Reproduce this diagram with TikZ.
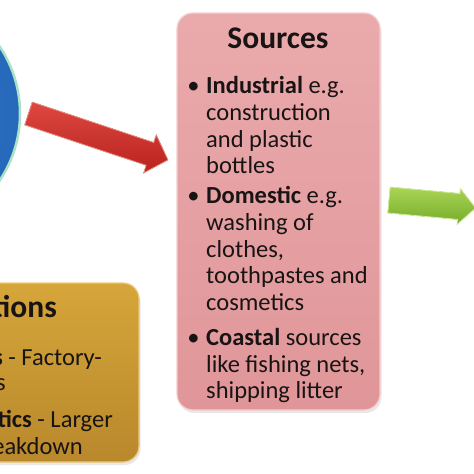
\documentclass[tikz,border=0pt]{standalone}
\usepackage{fontspec}
\setmainfont{Carlito}
\usetikzlibrary{shadows}
\definecolor{txt}{RGB}{25,20,20}
\definecolor{pinktop}{RGB}{234,170,172}
\definecolor{pinkbot}{RGB}{224,150,153}
\definecolor{pinkedge}{RGB}{244,205,206}
\definecolor{goldtop}{RGB}{214,166,58}
\definecolor{goldbot}{RGB}{184,136,44}
\definecolor{goldedge}{RGB}{236,200,120}
\definecolor{bluein}{RGB}{50,122,204}
\definecolor{blueout}{RGB}{38,104,186}
\definecolor{rim}{RGB}{170,225,200}
\definecolor{redtop}{RGB}{222,72,64}
\definecolor{redbot}{RGB}{185,34,30}
\definecolor{rededge}{RGB}{235,140,130}
\definecolor{greentop}{RGB}{170,212,85}
\definecolor{greenbot}{RGB}{118,172,42}
\definecolor{greenedge}{RGB}{210,240,150}
\begin{document}
\begin{tikzpicture}[x=1pt,y=-1pt,
  body/.style={inner sep=0pt, anchor=base west, font=\fontsize{24.5}{27}\selectfont, text=txt},
  bodyr/.style={inner sep=0pt, anchor=base east, font=\fontsize{24.5}{27}\selectfont, text=txt},
  ttl/.style={inner sep=0pt, font=\bfseries\fontsize{31.5}{34}\selectfont, text=txt},
  bul/.style={inner sep=0pt, anchor=base, font=\fontsize{24.5}{27}\selectfont, text=txt},
  panel/.style={rounded corners=16pt, inner sep=0pt, line width=1.2pt,
    drop shadow={opacity=0.18, shadow xshift=1.5pt, shadow yshift=-3pt}},
  ]
\useasboundingbox (0,0) rectangle (474,474);
\clip (0,0) rectangle (474,474);
\fill[white] (0,0) rectangle (474,474);

% blue circle (partly off the left edge)
\node[circle, minimum size=241pt, inner sep=0pt, draw=rim, line width=2.5pt,
  inner color=bluein, outer color=blueout] (circ) at (-100.5,113.5) {};

% sources panel
\node[panel, minimum width=203pt, minimum height=397pt, top color=pinktop,
  bottom color=pinkbot, draw=pinkedge] (src) at (278.5,211.5) {};

% classifications panel (partly off the left edge)
\node[panel, minimum width=339pt, minimum height=179pt, top color=goldtop,
  bottom color=goldbot, draw=goldedge] (cls) at (-30.5,372.5) {};

% red arrow
\begin{scope}[shift={(28.5,113.5)}, rotate=-18.4]
\filldraw[top color=redtop, bottom color=redbot, draw=rededge, line width=0.8pt]
  (0,-12) -- (128,-12) -- (128,-20) -- (147,0) -- (128,20) -- (128,12) -- (0,12) -- cycle;
\end{scope}

% green arrow
\begin{scope}[shift={(389,200)}, rotate=-5.3]
\filldraw[top color=greentop, bottom color=greenbot, draw=greenedge, line width=0.8pt]
  (0,-13) -- (70,-13) -- (70,-18) -- (87,0) -- (70,18) -- (70,13) -- (0,13) -- cycle;
\end{scope}

% sources text
\node[ttl, anchor=base] (st) at (278,48) {Sources};
\node[bul] (b1) at (193.5,93) {•};
\node[body] (s1) at (206,93) {\textbf{Industrial} e.g.};
\node[body] (s2) at (206,120) {construction};
\node[body] (s3) at (206,147) {and plastic};
\node[body] (s4) at (206,173) {bottles};
\node[bul] (b2) at (193.5,203) {•};
\node[body] (s5) at (206,203) {\textbf{Domestic} e.g.};
\node[body] (s6) at (206,230) {washing of};
\node[body] (s7) at (206,257) {clothes,};
\node[body] (s8) at (206,283) {toothpastes and};
\node[body] (s9) at (206,310) {cosmetics};
\node[bul] (b3) at (193.5,345) {•};
\node[body] (s10) at (206,345) {\textbf{Coastal} sources};
\node[body] (s11) at (206,372) {like fishing nets,};
\node[body] (s12) at (206,398) {shipping litter};

% classifications text (cut off by the left edge, as in the reference)
\node[ttl, anchor=base east] (ct) at (57,317) {Classifications};
\node[bodyr] (c1) at (102,365) {\textbf{Primary microplastics} - Factory-};
\node[bodyr] (c2) at (6,390) {made pellets};
\node[bodyr] (c3) at (113,427) {\textbf{Secondary microplastics} - Larger};
\node[bodyr] (c4) at (83,454) {plastic breakdown};
\end{tikzpicture}
\end{document}
